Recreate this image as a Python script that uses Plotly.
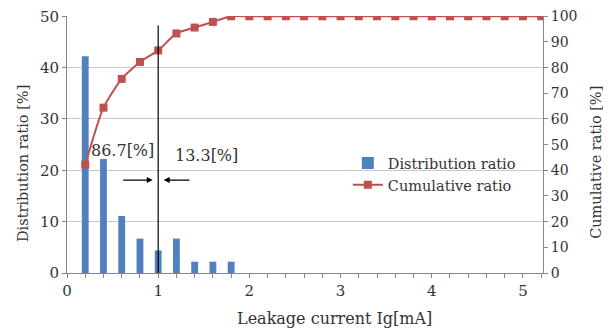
import plotly.graph_objects as go

x_vals = [0.2, 0.4, 0.6, 0.8, 1.0, 1.2, 1.4, 1.6, 1.8, 2.0, 2.2, 2.4, 2.6, 2.8, 3.0,
          3.2, 3.4, 3.6, 3.8, 4.0, 4.2, 4.4, 4.6, 4.8, 5.0, 5.2]
dist_ratio = [42.2, 22.2, 11.1, 6.7, 4.4, 6.7, 2.2, 2.2, 2.2, 0, 0, 0, 0, 0, 0,
              0, 0, 0, 0, 0, 0, 0, 0, 0, 0, 0]
cum_ratio = [42.2, 64.4, 75.6, 82.2, 86.7, 93.3, 95.6, 97.8, 100, 100, 100, 100, 100,
             100, 100, 100, 100, 100, 100, 100, 100, 100, 100, 100, 100, 100]
x_ticks = [0, 1, 2, 3, 4, 5]
left_ticks = [0, 10, 20, 30, 40, 50]
right_ticks = [0, 10, 20, 30, 40, 50, 60, 70, 80, 90, 100]

FONT = "DejaVu Serif"
TXT = "#333333"
AX = "#868686"

fig = go.Figure()
fig.add_trace(go.Bar(x=x_vals, y=dist_ratio, width=0.075, name="Distribution ratio",
                     marker=dict(color="#4F81BD", line=dict(width=0))))
fig.add_trace(go.Scatter(x=x_vals, y=cum_ratio, yaxis="y2", name="Cumulative ratio",
                         mode="lines+markers", line=dict(color="#C0504D", width=2, shape="spline", smoothing=0.6),
                         marker=dict(symbol="square", size=8, color="#C0504D")))

fig.add_shape(type="line", xref="x", yref="y", x0=1, x1=1, y0=-0.3, y1=48.2,
              line=dict(color="black", width=1.2))

fig.add_annotation(x=0.61, y=23.9, xref="x", yref="y", text="86.7[%]", showarrow=False,
                   font=dict(family=FONT, size=16, color=TXT))
fig.add_annotation(x=1.53, y=22.8, xref="x", yref="y", text="13.3[%]", showarrow=False,
                   font=dict(family=FONT, size=16, color=TXT))
fig.add_annotation(x=0.94, y=18.1, ax=0.60, ay=18.1, xref="x", yref="y", axref="x", ayref="y",
                   text="", showarrow=True, arrowhead=2, arrowsize=1, arrowwidth=1.2, arrowcolor="black")
fig.add_annotation(x=1.06, y=18.1, ax=1.36, ay=18.1, xref="x", yref="y", axref="x", ayref="y",
                   text="", showarrow=True, arrowhead=2, arrowsize=1, arrowwidth=1.2, arrowcolor="black")

# axis titles as positioned annotations
fig.add_annotation(x=-0.0924, y=0.424, xref="paper", yref="paper", text="Distribution ratio [%]",
                   textangle=-90, showarrow=False, xanchor="center", yanchor="middle",
                   font=dict(family=FONT, size=14.5, color=TXT))
fig.add_annotation(x=1.111, y=0.432, xref="paper", yref="paper", text="Cumulative ratio [%]",
                   textangle=-90, showarrow=False, xanchor="center", yanchor="middle",
                   font=dict(family=FONT, size=14.5, color=TXT))
fig.add_annotation(x=0.563, y=-0.178, xref="paper", yref="paper", text="Leakage current Ig[mA]",
                   showarrow=False, xanchor="center", yanchor="middle",
                   font=dict(family=FONT, size=16, color=TXT))

fig.update_layout(
    width=603, height=321,
    margin=dict(l=59, r=68, t=8, b=56),
    paper_bgcolor="white", plot_bgcolor="white",
    font=dict(family=FONT, size=14, color=TXT),
    showlegend=True,
    legend=dict(x=0.59, y=0.49, xanchor="left", yanchor="top", bgcolor="rgba(0,0,0,0)",
                font=dict(family=FONT, size=14.5, color=TXT), tracegroupgap=0, itemwidth=30),
    xaxis=dict(range=[0, 5.22], tickvals=x_ticks, ticks="outside", ticklen=4, tickcolor=AX,
               minor=dict(dtick=0.2, tick0=0, ticks="outside", ticklen=4, tickcolor=AX, showgrid=False),
               showline=True, linecolor=AX, showgrid=False, zeroline=False, automargin=False,
               tickfont=dict(size=15)),
    yaxis=dict(range=[0, 50.05], tickvals=left_ticks, ticks="outside", ticklen=4, tickcolor=AX,
               showline=True, linecolor=AX, showgrid=True, gridcolor="#c8c8c8", zeroline=False,
               automargin=False, tickfont=dict(size=15), ticklabeloverflow="allow"),
    yaxis2=dict(range=[0, 100.1], tickvals=right_ticks, overlaying="y", side="right",
                ticks="outside", ticklen=4, tickcolor=AX, showline=True, linecolor=AX,
                showgrid=False, zeroline=False, automargin=False, ticklabeloverflow="allow",
                tickfont=dict(size=14)),
)

fig.write_html("out.html")
